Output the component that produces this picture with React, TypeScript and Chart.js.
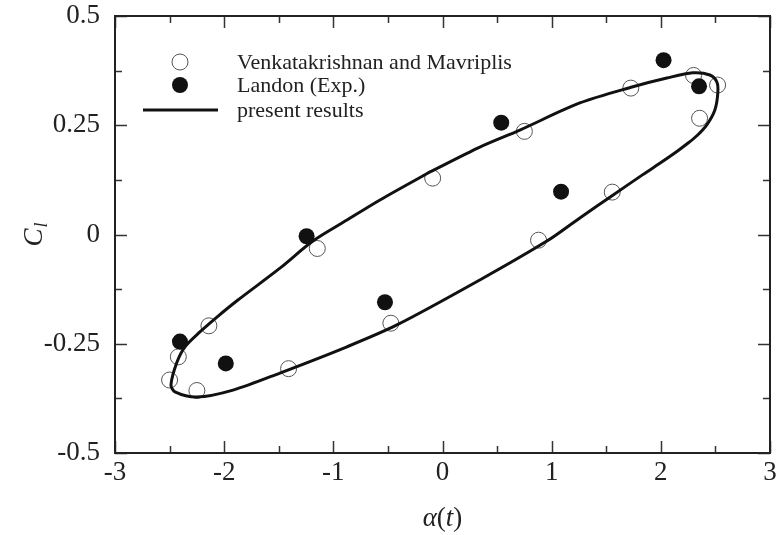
import React, { useEffect, useRef } from 'react';
import { Chart, registerables } from 'chart.js';

Chart.register(...registerables);

// Venkatakrishnan and Mavriplis (open circles)
const venkX = [-2.5, -2.42, -2.14, -2.25, -1.41, -1.147, -0.473, -0.09, 0.75, 0.88, 1.555, 1.725, 2.3, 2.355, 2.52];
const venkY = [-0.333, -0.28, -0.209, -0.357, -0.307, -0.032, -0.203, 0.129, 0.236, -0.013, 0.097, 0.335, 0.364, 0.266, 0.342];

// Landon (Exp.) (filled circles)
const landonX = [-2.405, -1.985, -1.245, -0.527, 0.538, 1.086, 2.025, 2.35];
const landonY = [-0.245, -0.295, -0.004, -0.155, 0.256, 0.098, 0.399, 0.339];

// present results (closed loop)
const curveX = [
  -0.115, 0.342, 0.709, 1.258, 1.744, 2.055, 2.293, 2.449, 2.513, 2.522, 2.495, 2.421, 2.33, 2.238, 2.147, 1.991,
  1.835, 1.56, 1.258, 0.956, 0.342, -0.418, -0.875, -1.489, -1.919, -2.249, -2.451, -2.487, -2.432, -2.359, -2.222,
  -2.066, -1.874, -1.489, -1.187, -0.875, -0.573, -0.115,
];
const curveY = [
  0.143, 0.2, 0.239, 0.301, 0.338, 0.358, 0.37, 0.365, 0.349, 0.324, 0.285, 0.251, 0.226, 0.207, 0.19, 0.163,
  0.137, 0.09, 0.038, -0.015, -0.104, -0.207, -0.257, -0.317, -0.356, -0.372, -0.36, -0.344, -0.292, -0.257, -0.223,
  -0.189, -0.15, -0.077, -0.015, 0.033, 0.079, 0.143,
];

const xMajorTicks = [-3, -2, -1, 0, 1, 2, 3];
const xMinorTicks = [-2.5, -1.5, -0.5, 0.5, 1.5, 2.5];
const yMajorTicks = [-0.5, -0.25, 0, 0.25, 0.5];
const yMinorTicks = [-0.375, -0.125, 0.125, 0.375];

const legendLabels = ['Venkatakrishnan and Mavriplis', 'Landon (Exp.)', 'present results'];

const SERIF = '"Liberation Serif", "DejaVu Serif", serif';

const toPts = (xs: number[], ys: number[]) => xs.map((x, i) => ({ x, y: ys[i] }));

const framePlugin = {
  id: 'frame',
  afterDraw(chart: any) {
    const { ctx, chartArea: ca, scales } = chart;
    const xs = scales.x;
    const ys = scales.y;
    ctx.save();
    ctx.strokeStyle = '#333';
    ctx.lineWidth = 1.5;
    const MAJ = 12;
    const MIN = 7;
    const xTick = (v: number, len: number) => {
      const p = Math.round(xs.getPixelForValue(v)) + 0.5;
      ctx.beginPath();
      ctx.moveTo(p, ca.bottom);
      ctx.lineTo(p, ca.bottom - len);
      ctx.moveTo(p, ca.top);
      ctx.lineTo(p, ca.top + len);
      ctx.stroke();
    };
    const yTick = (v: number, len: number) => {
      const p = Math.round(ys.getPixelForValue(v)) + 0.5;
      ctx.beginPath();
      ctx.moveTo(ca.left, p);
      ctx.lineTo(ca.left + len, p);
      ctx.moveTo(ca.right, p);
      ctx.lineTo(ca.right - len, p);
      ctx.stroke();
    };
    xMajorTicks.forEach((v) => xTick(v, MAJ));
    xMinorTicks.forEach((v) => xTick(v, MIN));
    yMajorTicks.forEach((v) => yTick(v, MAJ));
    yMinorTicks.forEach((v) => yTick(v, MIN));
    ctx.lineWidth = 2;
    ctx.strokeStyle = '#222';
    ctx.strokeRect(ca.left, ca.top, ca.right - ca.left, ca.bottom - ca.top);

    // legend
    const mx = ca.left + 65;
    const tx = ca.left + 122;
    const rows = [ca.top + 46, ca.top + 69, ca.top + 94];
    ctx.font = `22px ${SERIF}`;
    ctx.fillStyle = '#222';
    ctx.textBaseline = 'middle';
    ctx.textAlign = 'left';
    ctx.beginPath();
    ctx.arc(mx, rows[0], 8, 0, Math.PI * 2);
    ctx.lineWidth = 1;
    ctx.strokeStyle = '#555';
    ctx.stroke();
    ctx.beginPath();
    ctx.arc(mx, rows[1], 8, 0, Math.PI * 2);
    ctx.fillStyle = '#111';
    ctx.fill();
    ctx.beginPath();
    ctx.moveTo(ca.left + 28, rows[2]);
    ctx.lineTo(ca.left + 103, rows[2]);
    ctx.lineWidth = 3;
    ctx.strokeStyle = '#111';
    ctx.stroke();
    ctx.fillStyle = '#222';
    legendLabels.forEach((t, i) => ctx.fillText(t, tx, rows[i] + 1));

    // x title: alpha(t)
    const cx = (ca.left + ca.right) / 2;
    const ty = 526;
    ctx.textBaseline = 'alphabetic';
    const parts: [string, boolean][] = [['α', true], ['(', false], ['t', true], [')', false]];
    let total = 0;
    parts.forEach(([s, it]) => {
      ctx.font = `${it ? 'italic ' : ''}27px ${SERIF}`;
      total += ctx.measureText(s).width;
    });
    let px = cx - total / 2;
    parts.forEach(([s, it]) => {
      ctx.font = `${it ? 'italic ' : ''}27px ${SERIF}`;
      ctx.fillText(s, px, ty);
      px += ctx.measureText(s).width;
    });

    // y title: C_l
    ctx.save();
    ctx.translate(42, (ca.top + ca.bottom) / 2);
    ctx.rotate(-Math.PI / 2);
    ctx.font = `italic 27px ${SERIF}`;
    const cw = ctx.measureText('C').width;
    ctx.fillText('C', -cw / 2 - 3, 0);
    ctx.font = `italic 18px ${SERIF}`;
    ctx.fillText('l', cw / 2 - 2, 5);
    ctx.restore();

    ctx.restore();
  },
};

export default function App() {
  const ref = useRef<HTMLCanvasElement | null>(null);
  useEffect(() => {
    if (!ref.current) return;
    const tickFont = { family: SERIF, size: 27 };
    const chart = new Chart(ref.current, {
      type: 'scatter',
      data: {
        datasets: [
          {
            label: legendLabels[2],
            data: toPts(curveX, curveY),
            showLine: true,
            borderColor: '#111',
            borderWidth: 3,
            pointRadius: 0,
            tension: 0.3,
            fill: false,
            order: 0,
          },
          {
            label: legendLabels[1],
            data: toPts(landonX, landonY),
            pointRadius: 8,
            backgroundColor: '#111',
            borderColor: '#111',
            borderWidth: 0,
            order: 1,
          },
          {
            label: legendLabels[0],
            data: toPts(venkX, venkY),
            pointRadius: 8,
            backgroundColor: 'rgba(255,255,255,0)',
            borderColor: '#555',
            borderWidth: 1,
            order: 2,
          },
        ],
      } as any,
      options: {
        animation: false,
        responsive: true,
        maintainAspectRatio: false,
        layout: { padding: { top: 16, right: 13, left: 0, bottom: 0 } },
        plugins: { legend: { display: false }, tooltip: { enabled: false } },
        scales: {
          x: {
            type: 'linear',
            min: -3,
            max: 3,
            ticks: {
              stepSize: 1,
              padding: 4,
              color: '#222',
              font: tickFont,
              maxRotation: 0,
              autoSkip: false,
              callback: (v: any) => String(v),
            },
            grid: { display: false, drawTicks: false },
            border: { display: false },
            afterFit: (s: any) => {
              s.height = 82;
              s.paddingLeft = 0;
              s.paddingRight = 0;
            },
          },
          y: {
            type: 'linear',
            min: -0.5,
            max: 0.5,
            ticks: {
              stepSize: 0.25,
              padding: 15,
              color: '#222',
              font: tickFont,
              autoSkip: false,
              callback: (v: any) => String(v),
            },
            grid: { display: false, drawTicks: false },
            border: { display: false },
            afterFit: (s: any) => {
              s.width = 115;
              s.paddingTop = 0;
              s.paddingBottom = 0;
            },
          },
        },
      } as any,
      plugins: [framePlugin],
    });
    return () => chart.destroy();
  }, []);
  return (
    <div style={{ position: 'absolute', left: 0, top: 0, width: 783, height: 535, background: '#fff' }}>
      <canvas ref={ref} />
    </div>
  );
}
